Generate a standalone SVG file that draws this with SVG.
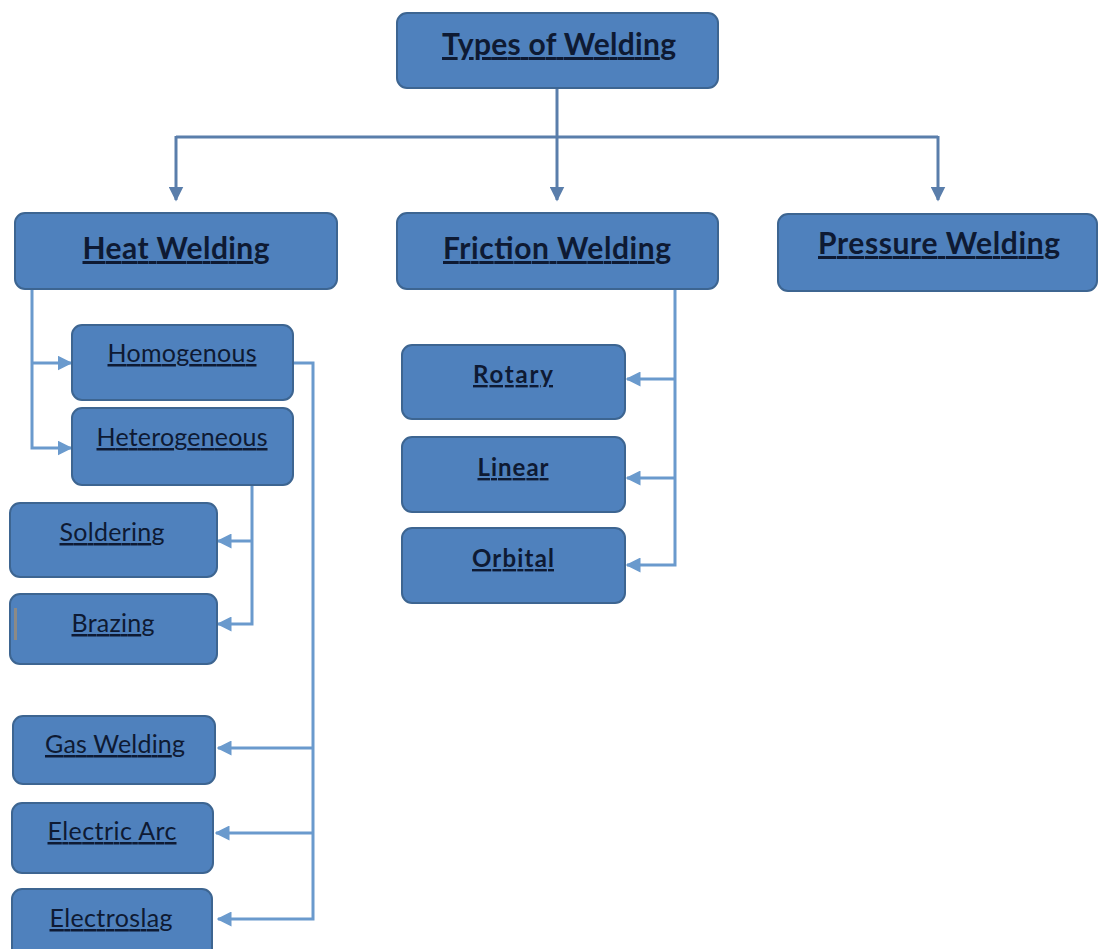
<svg xmlns="http://www.w3.org/2000/svg" width="1098" height="949" viewBox="0 0 1098 949">
<style>
.box{fill:#4f81bd;stroke:#3d6591;stroke-width:2}
.t{font-family:Lato,"Open Sans","Liberation Sans",sans-serif;fill:#0e1a33;text-anchor:middle;text-decoration:underline}
.b{font-weight:700}
.big{font-size:30px}
.mid{font-size:25px}
.sm{font-size:24px}
.top{fill:none;stroke:#5a7eab;stroke-width:3}
.c{fill:none;stroke:#6a9acd;stroke-width:3}
</style>
<defs>
<marker id="ad" viewBox="0 0 10 10" refX="9" refY="5" markerWidth="5" markerHeight="5" orient="auto" markerUnits="strokeWidth">
<path d="M0,0 L10,5 L0,10 z" fill="#5a7eab"/>
</marker>
<marker id="al" viewBox="0 0 10 10" refX="9" refY="5" markerWidth="5" markerHeight="5" orient="auto" markerUnits="strokeWidth">
<path d="M0,0 L10,5 L0,10 z" fill="#6a9acd"/>
</marker>
</defs>
<rect width="1098" height="949" fill="#ffffff"/>
<g id="connectors">
<path class="top" d="M557,88 V200" marker-end="url(#ad)"/>
<path class="top" d="M176,137 H938"/>
<path class="top" d="M176,136 V200" marker-end="url(#ad)"/>
<path class="top" d="M938,136 V200" marker-end="url(#ad)"/>
<path class="c" d="M32,289 V448 H71" marker-end="url(#al)"/>
<path class="c" d="M32,363 H71" marker-end="url(#al)"/>
<path class="c" d="M293,363 H313 V919 H218" marker-end="url(#al)"/>
<path class="c" d="M313,748 H218" marker-end="url(#al)"/>
<path class="c" d="M313,833 H216" marker-end="url(#al)"/>
<path class="c" d="M252,485 V624 H218" marker-end="url(#al)"/>
<path class="c" d="M252,541 H218" marker-end="url(#al)"/>
<path class="c" d="M675,289 V565 H627" marker-end="url(#al)"/>
<path class="c" d="M675,379 H627" marker-end="url(#al)"/>
<path class="c" d="M675,478 H627" marker-end="url(#al)"/>
</g>
<g id="types"><rect class="box" x="397" y="13" width="321" height="75" rx="10"/><text class="t b big" x="559" y="55" textLength="234" lengthAdjust="spacing">Types of Welding</text></g>
<g id="heat"><rect class="box" x="15" y="213" width="322" height="76" rx="10"/><text class="t b big" x="176" y="259" textLength="187" lengthAdjust="spacing">Heat Welding</text></g>
<g id="friction"><rect class="box" x="397" y="213" width="321" height="76" rx="10"/><text class="t b big" x="557" y="259" textLength="228" lengthAdjust="spacing">Friction Welding</text></g>
<g id="pressure"><rect class="box" x="778" y="214" width="319" height="77" rx="10"/><text class="t b big" x="939" y="254" textLength="242" lengthAdjust="spacing">Pressure Welding</text></g>
<g id="homogenous"><rect class="box" x="72" y="325" width="221" height="75" rx="10"/><text class="t mid" x="182" y="362" textLength="149" lengthAdjust="spacing">Homogenous</text></g>
<g id="heterogeneous"><rect class="box" x="72" y="408" width="221" height="77" rx="10"/><text class="t mid" x="182" y="446" textLength="171" lengthAdjust="spacing">Heterogeneous</text></g>
<g id="soldering"><rect class="box" x="10" y="503" width="207" height="74" rx="10"/><text class="t mid" x="112" y="541" textLength="105" lengthAdjust="spacing">Soldering</text></g>
<g id="brazing"><rect class="box" x="10" y="594" width="207" height="70" rx="10"/><rect x="14" y="608" width="3" height="32" fill="#8c8a86"/><text class="t mid" x="113" y="632" textLength="83" lengthAdjust="spacing">Brazing</text></g>
<g id="gas"><rect class="box" x="13" y="716" width="202" height="68" rx="10"/><text class="t mid" x="115" y="753" textLength="140" lengthAdjust="spacing">Gas Welding</text></g>
<g id="arc"><rect class="box" x="12" y="803" width="201" height="70" rx="10"/><text class="t mid" x="112" y="840" textLength="129" lengthAdjust="spacing">Electric Arc</text></g>
<g id="electroslag"><rect class="box" x="12" y="889" width="200" height="75" rx="10"/><text class="t mid" x="111" y="927" textLength="123" lengthAdjust="spacing">Electroslag</text></g>
<g id="rotary"><rect class="box" x="402" y="345" width="223" height="74" rx="10"/><text class="t b sm" x="513" y="383" textLength="80" lengthAdjust="spacing">Rotary</text></g>
<g id="linear"><rect class="box" x="402" y="437" width="223" height="75" rx="10"/><text class="t b sm" x="513" y="476" textLength="71" lengthAdjust="spacing">Linear</text></g>
<g id="orbital"><rect class="box" x="402" y="528" width="223" height="75" rx="10"/><text class="t b sm" x="513" y="567" textLength="82" lengthAdjust="spacing">Orbital</text></g>
</svg>
